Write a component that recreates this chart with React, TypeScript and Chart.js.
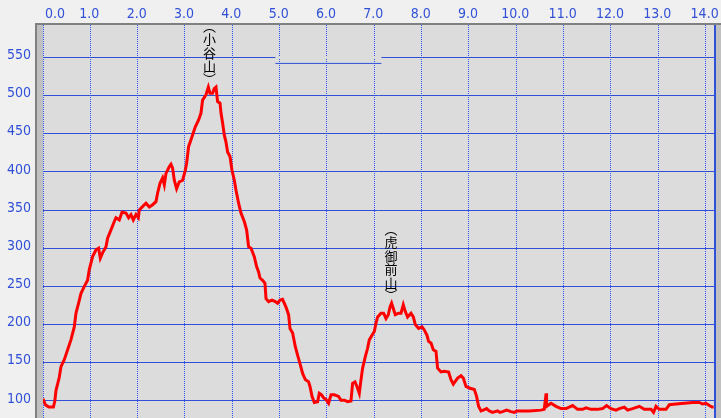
import React, { useEffect, useRef } from 'react';
import { Chart, registerables } from 'chart.js';

Chart.register(...registerables);

// ---- data ----
const distanceKm = [
  0.00, 0.05, 0.12, 0.22, 0.25, 0.275, 0.344, 0.38, 0.45, 0.52,
  0.59, 0.661, 0.697, 0.752, 0.803, 0.873, 0.942, 0.978, 1.048, 1.12,
  1.175, 1.211, 1.259, 1.331, 1.365, 1.437, 1.506, 1.542, 1.612, 1.669,
  1.754, 1.809, 1.859, 1.908, 1.965, 2.014, 2.035, 2.14, 2.176, 2.246,
  2.316, 2.387, 2.421, 2.472, 2.527, 2.563, 2.599, 2.669, 2.704, 2.738,
  2.774, 2.823, 2.88, 2.95, 3.006, 3.034, 3.076, 3.148, 3.218, 3.288,
  3.338, 3.372, 3.444, 3.493, 3.528, 3.583, 3.619, 3.655, 3.689, 3.74,
  3.761, 3.795, 3.831, 3.866, 3.9, 3.951, 3.993, 4.042, 4.078, 4.133,
  4.183, 4.253, 4.302, 4.344, 4.395, 4.464, 4.513, 4.555, 4.585, 4.64,
  4.69, 4.712, 4.767, 4.838, 4.908, 4.957, 5.007, 5.062, 5.134, 5.189,
  5.219, 5.274, 5.331, 5.379, 5.43, 5.485, 5.542, 5.612, 5.641, 5.684,
  5.732, 5.802, 5.838, 5.886, 5.929, 5.979, 6.034, 6.085, 6.155, 6.245,
  6.296, 6.366, 6.436, 6.507, 6.541, 6.592, 6.634, 6.683, 6.719, 6.753,
  6.81, 6.858, 6.894, 6.951, 7.0, 7.036, 7.07, 7.141, 7.196, 7.247,
  7.296, 7.332, 7.365, 7.401, 7.443, 7.513, 7.564, 7.612, 7.655, 7.703,
  7.775, 7.824, 7.866, 7.936, 8.008, 8.056, 8.113, 8.147, 8.198, 8.246,
  8.303, 8.337, 8.409, 8.479, 8.57, 8.62, 8.669, 8.76, 8.832, 8.88,
  8.937, 9.007, 9.113, 9.161, 9.203, 9.254, 9.303, 9.372, 9.429, 9.499,
  9.605, 9.656, 9.71, 9.795, 9.888, 9.958, 10.006, 10.275, 10.52, 10.59,
  10.63, 10.64, 10.733, 10.839, 10.944, 11.05, 11.19, 11.295, 11.40, 11.473,
  11.578, 11.718, 11.823, 11.908, 12.0, 12.107, 12.177, 12.282, 12.352, 12.457,
  12.599, 12.704, 12.846, 12.9, 12.952, 13.021, 13.163, 13.233, 13.374, 13.549,
  13.725, 13.866, 13.936, 14.008, 14.078, 14.135, 14.17,
];

const elevationM = [
  103, 95, 92, 92, 100, 114, 131, 145, 154, 167,
  180, 197, 215, 228, 241, 250, 258, 272, 289, 298,
  300, 287, 294, 302, 313, 324, 335, 340, 337, 347,
  346, 340, 344, 337, 344, 340, 350, 357, 359, 354,
  357, 361, 372, 385, 392, 383, 398, 407, 410, 405,
  389, 378, 387, 389, 402, 411, 433, 446, 459, 468,
  477, 494, 501, 511, 503, 503, 509, 511, 492, 490,
  477, 464, 448, 439, 426, 420, 402, 389, 376, 359,
  346, 335, 324, 302, 300, 289, 276, 269, 261, 258,
  254, 234, 230, 232, 230, 228, 232, 233, 223, 213,
  195, 189, 171, 160, 149, 136, 128, 125, 119, 106,
  98, 99, 110, 108, 104, 102, 97, 108, 108, 106,
  101, 101, 99, 100, 123, 125, 119, 110, 128, 143,
  158, 169, 180, 186, 191, 202, 210, 215, 215, 208,
  213, 223, 228, 221, 213, 215, 215, 226, 217, 210,
  215, 210, 200, 195, 197, 193, 186, 178, 176, 167,
  165, 143, 138, 139, 138, 128, 122, 130, 133, 130,
  119, 117, 115, 106, 93, 87, 88, 90, 87, 85,
  87, 85, 86, 88, 86, 85, 87, 87, 88, 89,
  110, 93, 97, 93, 90, 90, 94, 89, 89, 91,
  89, 89, 90, 94, 90, 88, 90, 92, 88, 90,
  93, 89, 89, 85, 93, 89, 89, 95, 96, 97,
  98, 98, 96, 97, 94, 92, 92,
];

const xTickValues = [0, 1, 2, 3, 4, 5, 6, 7, 8, 9, 10, 11, 12, 13, 14];
const xTickLabels = ['0.0', '1.0', '2.0', '3.0', '4.0', '5.0', '6.0', '7.0', '8.0', '9.0', '10.0', '11.0', '12.0', '13.0', '14.0'];
const yTickValues = [100, 150, 200, 250, 300, 350, 400, 450, 500, 550];
const yTickLabels = ['100', '150', '200', '250', '300', '350', '400', '450', '500', '550'];

const peakNames = ['小谷山', '虎御前山'];
const peakLabelKm = [3.52, 7.35];
const peakLabelTopElev = [586, 320];

const markSegmentKm = [4.91, 7.15];
const markSegmentElev = 542;
const gapGridElev = 550;

const X_MIN = 0;
const X_MAX = 14.177;
const Y_MIN = 77.7;
const Y_MAX = 592.3;

const BLUE = '#3050d8';
const VBLUE = '#2f55ff';
const TEXT_BLUE = '#3050d8';
const TICK_FONT = "14px 'Liberation Sans Narrow', 'DejaVu Sans Condensed', 'Liberation Sans', sans-serif";
const CJK_FONT = "13px 'Noto Sans CJK JP', sans-serif";

const framePlugin = {
  id: 'frame',
  beforeDraw(chart: any) {
    const { ctx, width, height } = chart;
    const { left, top, right, bottom } = chart.chartArea;
    ctx.save();
    ctx.fillStyle = '#f0f0f0';
    ctx.fillRect(0, 0, width, height);
    ctx.fillStyle = '#dcdcdc';
    ctx.fillRect(left, top, right - left, bottom - top);
    ctx.fillStyle = '#c0c0c0';
    ctx.fillRect(left - 6, top, 6, bottom - top);
    ctx.fillRect(right + 2, top, width - right - 2, bottom - top);
    ctx.fillStyle = '#808080';
    ctx.fillRect(left - 8, top - 2, width - left + 8, 2);
    ctx.fillRect(left - 8, top - 2, 2, height - top + 2);
    ctx.restore();
  },
  afterDraw(chart: any) {
    const { ctx } = chart;
    const { left, top, right, bottom } = chart.chartArea;
    const xs = chart.scales.x;
    const ys = chart.scales.y;
    ctx.save();
    // right border
    ctx.fillStyle = BLUE;
    ctx.fillRect(right, top, 2, bottom - top);
    // tick labels
    ctx.font = TICK_FONT;
    ctx.fillStyle = TEXT_BLUE;
    ctx.textBaseline = 'middle';
    ctx.textAlign = 'left';
    xTickValues.forEach((v, i) => {
      const px = xs.getPixelForValue(v);
      const label = xTickLabels[i];
      const w = ctx.measureText(label).width;
      let lx = px - 1 - w / 2;
      if (lx < left + 2) lx = left + 2;
      ctx.fillText(label, lx, 14.5);
    });
    ctx.textAlign = 'right';
    yTickValues.forEach((v, i) => {
      const py = ys.getPixelForValue(v);
      ctx.fillText(yTickLabels[i], 31, py - 2);
    });
    // vertical peak names
    ctx.font = CJK_FONT;
    ctx.fillStyle = '#000000';
    ctx.textAlign = 'center';
    ctx.textBaseline = 'top';
    peakNames.forEach((name, i) => {
      const px = xs.getPixelForValue(peakLabelKm[i]);
      let py = ys.getPixelForValue(peakLabelTopElev[i]);
      ctx.fillText('︵', px, py - 10);
      py += 3;
      for (const ch of name) {
        ctx.fillText(ch, px, py);
        py += 13.5;
      }
      ctx.fillText('︶', px, py - 1);
    });
    ctx.restore();
  },
};

export default function App() {
  const canvasRef = useRef<HTMLCanvasElement | null>(null);

  useEffect(() => {
    if (!canvasRef.current) return;
    const n = Math.min(distanceKm.length, elevationM.length);
    const profile = [];
    for (let i = 0; i < n; i++) profile.push({ x: distanceKm[i], y: elevationM[i] });

    const chart = new Chart(canvasRef.current, {
      type: 'line',
      data: {
        datasets: [
          {
            data: profile,
            borderColor: '#ff0000',
            borderWidth: 3,
            pointRadius: 0,
            tension: 0,
            fill: false,
          },
          {
            data: markSegmentKm.map((x) => ({ x, y: markSegmentElev })),
            borderColor: BLUE,
            borderWidth: 1,
            pointRadius: 0,
          },
          {
            data: markSegmentKm.map((x) => ({ x, y: gapGridElev })),
            borderColor: '#dcdcdc',
            borderWidth: 2,
            pointRadius: 0,
          },
        ],
      },
      options: {
        animation: false,
        responsive: false,
        devicePixelRatio: 1,
        layout: { padding: { left: 43, top: 25, right: 7, bottom: 0 } },
        plugins: { legend: { display: false }, tooltip: { enabled: false } },
        scales: {
          x: {
            type: 'linear',
            position: 'top',
            min: X_MIN,
            max: X_MAX,
            afterBuildTicks: (s: any) => {
              s.ticks = xTickValues.map((value) => ({ value }));
            },
            afterFit: (s: any) => {
              s.height = 0;
            },
            ticks: { display: false },
            grid: { color: VBLUE, lineWidth: 1, drawTicks: false },
            border: { display: false, dash: [1, 1] },
          },
          y: {
            type: 'linear',
            min: Y_MIN,
            max: Y_MAX,
            afterBuildTicks: (s: any) => {
              s.ticks = yTickValues.map((value) => ({ value }));
            },
            afterFit: (s: any) => {
              s.width = 0;
            },
            ticks: { display: false },
            grid: { color: BLUE, lineWidth: 1, drawTicks: false },
            border: { display: false },
          },
        },
      },
      plugins: [framePlugin],
    });
    return () => chart.destroy();
  }, []);

  return (
    <div style={{ position: 'absolute', left: 0, top: 0, width: 721, height: 418 }}>
      <canvas ref={canvasRef} width={721} height={418} style={{ display: 'block' }} />
    </div>
  );
}
